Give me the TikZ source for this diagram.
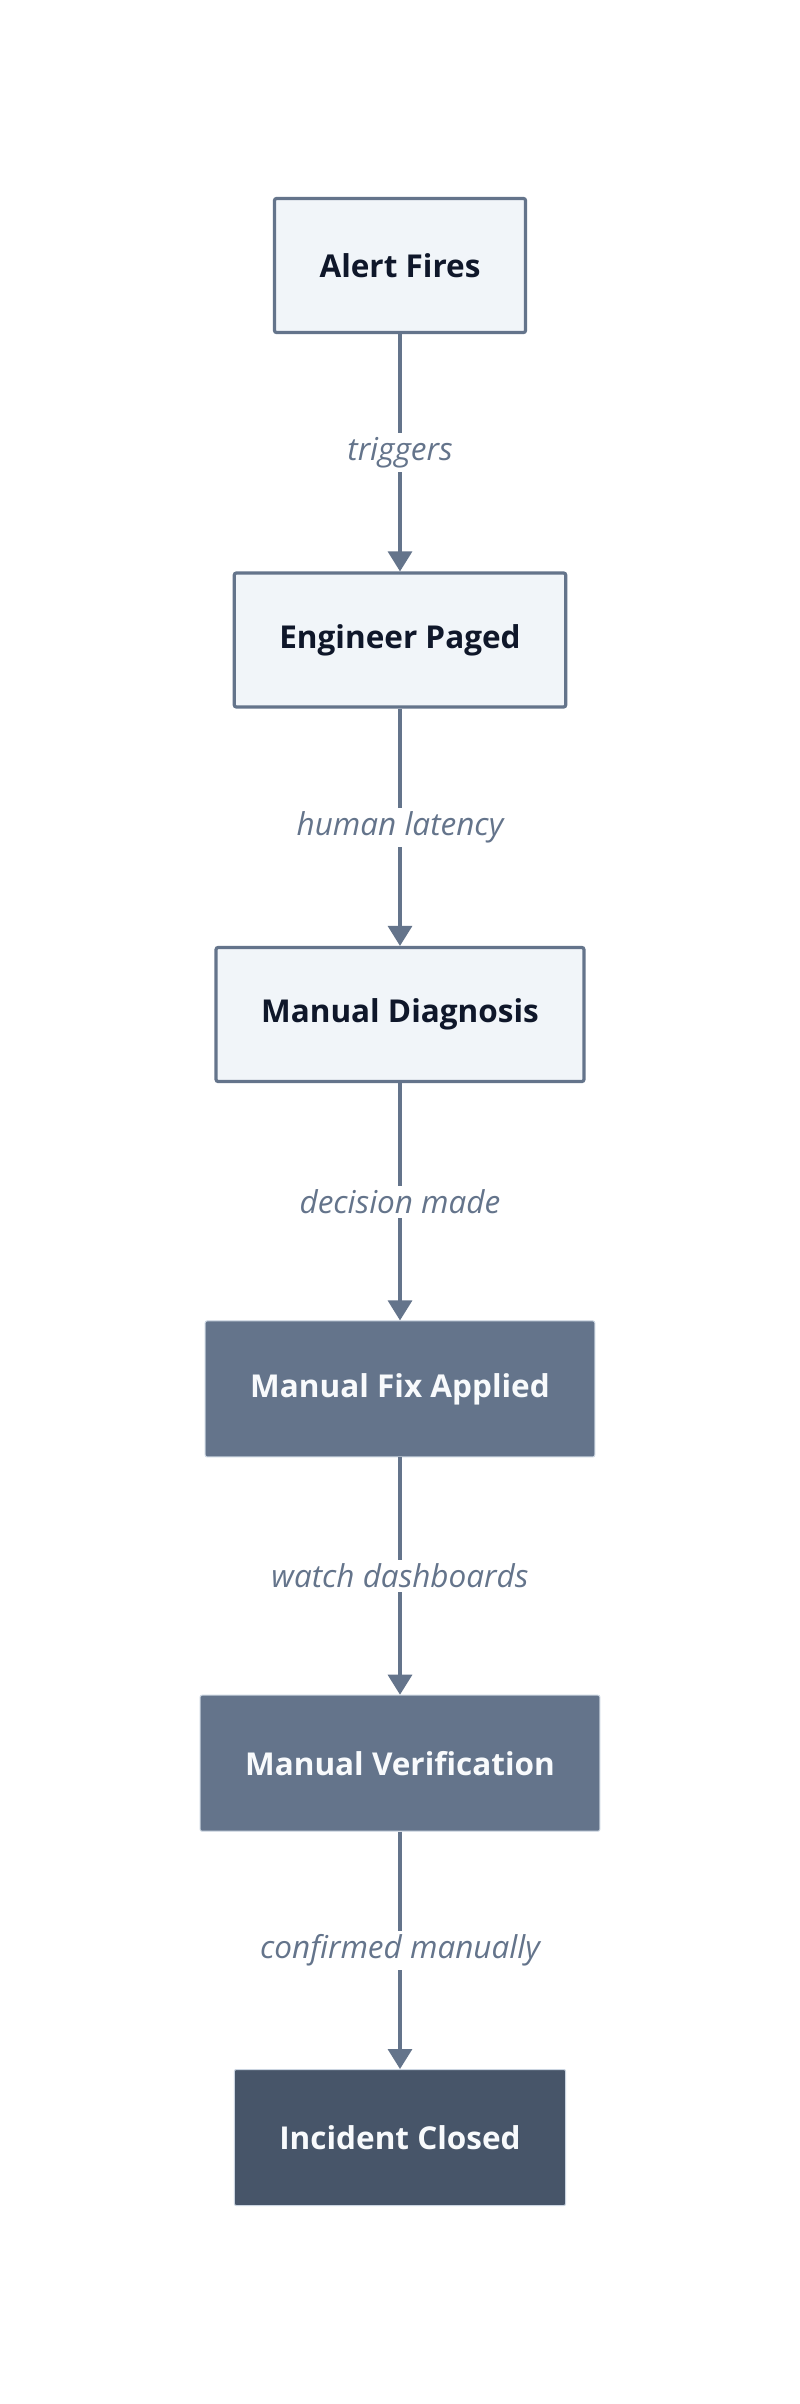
\documentclass[tikz,border=0pt]{standalone}
\usepackage{fontspec}
\setmainfont{Open Sans}
\usepackage{xcolor}
\usepackage{tikz}
\usetikzlibrary{arrows.meta,positioning}
\definecolor{slateline}{HTML}{64748B}
\definecolor{paper}{HTML}{F1F5F9}
\definecolor{ink}{HTML}{0F172A}
\definecolor{slatedark}{HTML}{475569}
\definecolor{snow}{HTML}{F8FAFC}
\definecolor{rim}{HTML}{CBD5E1}

\begin{document}
\begin{tikzpicture}[x=1pt,y=-1pt,>={Triangle[length=20pt,width=24pt]},node distance=237.3pt,
  stepbox/.style={minimum height=134pt,inner xsep=45pt,rounded corners=2pt,font=\fontsize{31.5}{38}\selectfont\bfseries},
  manual/.style={stepbox,draw=slateline,line width=3.2pt,fill=paper,text=ink},
  action/.style={stepbox,minimum height=136pt,draw=rim,line width=1pt,fill=slateline,text=snow},
  closing/.style={stepbox,minimum height=136pt,draw=rim,line width=1pt,fill=slatedark,text=snow},
  link/.style={->,line width=3.2pt,color=slateline},
  tag/.style={fill=white,text=slateline,inner xsep=6pt,inner ysep=4pt,font=\fontsize{31.5}{38}\selectfont\itshape}]
\fill[white] (0,0) rectangle (800,2404);
\useasboundingbox (0,0) rectangle (800,2404);
\node[manual] (alert) at (400,265.5) {Alert Fires};
\node[manual,below=of alert] (paged) {Engineer Paged};
\node[manual,below=of paged] (diagnosis) {Manual Diagnosis};
\node[action,below=of diagnosis] (fix) {Manual Fix Applied};
\node[action,below=of fix] (verify) {Manual Verification};
\node[closing,below=of verify] (closed) {Incident Closed};
\draw[link] (alert) -- node[tag] {triggers} (paged);
\draw[link] (paged) -- node[tag] {human latency} (diagnosis);
\draw[link] (diagnosis) -- node[tag] {decision made} (fix);
\draw[link] (fix) -- node[tag] {watch dashboards} (verify);
\draw[link] (verify) -- node[tag] {confirmed manually} (closed);
\end{tikzpicture}
\end{document}
